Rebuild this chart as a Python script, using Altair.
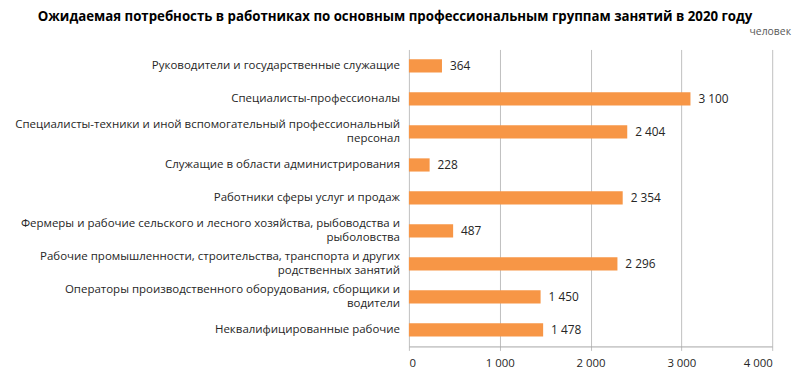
import altair as alt
import pandas as pd

categories = [
    "Руководители и государственные служащие",
    "Специалисты-профессионалы",
    "Специалисты-техники и иной вспомогательный профессиональный|персонал",
    "Служащие в области администрирования",
    "Работники сферы услуг и продаж",
    "Фермеры и рабочие сельского и лесного хозяйства, рыбоводства и|рыболовства",
    "Рабочие промышленности, строительства, транспорта и других|родственных занятий",
    "Операторы производственного оборудования, сборщики и|водители",
    "Неквалифицированные рабочие",
]
values = [364, 3100, 2404, 228, 2354, 487, 2296, 1450, 1478]
x_ticks = [0, 1000, 2000, 3000, 4000]

title_text = "Ожидаемая потребность в работниках по основным профессиональным группам занятий в 2020 году"
unit_text = "человек"

df = pd.DataFrame({"cat": categories, "val": values})

FONT = "Open Sans"
LABEL_SIZE = 11.6
W, H = 367, 300
LEFT = 405

y_scale = alt.Scale(paddingInner=0.6, paddingOuter=0.3)

y_enc = alt.Y(
    "cat:N",
    sort=categories,
    scale=y_scale,
    axis=alt.Axis(
        title=None,
        labels=False,
        tickBand="extent",
        tickSize=3,
        tickColor="#A6A6A6",
        domainColor="#A6A6A6",
        grid=False,
    ),
)

bars = alt.Chart(df).mark_bar(color="#F79646").encode(
    x=alt.X(
        "val:Q",
        scale=alt.Scale(domain=[0, 4000], nice=False),
        axis=alt.Axis(
            title=None,
            values=x_ticks,
            labelExpr="replace(format(datum.value, ','), ',', ' ')",
            labelFont=FONT,
            labelFontSize=11.5,
            labelColor="#262626",
            labelPadding=7,
            tickSize=4,
            tickColor="#BFBFBF",
            domainColor="#A6A6A6",
            gridColor="#BFBFBF",
        ),
    ),
    y=y_enc,
)

ybase = alt.Y("cat:N", sort=categories, scale=y_scale, axis=None)

def cat_text(filter_expr, text_expr, dy):
    return alt.Chart(df).transform_filter(filter_expr).transform_calculate(
        line=text_expr
    ).mark_text(
        align="right", baseline="middle", dy=dy, font=FONT, fontSize=LABEL_SIZE,
        color="#262626"
    ).encode(
        x=alt.value(-9),
        y=ybase,
        text="line:N",
    )

single = cat_text("indexof(datum.cat, '|') < 0", "datum.cat", 0)
first = cat_text("indexof(datum.cat, '|') >= 0", "split(datum.cat, '|')[0]", -7)
second = cat_text("indexof(datum.cat, '|') >= 0", "split(datum.cat, '|')[1]", 7)

labels = alt.Chart(df).transform_calculate(
    lbl="replace(format(datum.val, ','), ',', ' ')"
).mark_text(
    align="left", baseline="middle", dx=8, font=FONT, fontSize=12, color="#262626"
).encode(
    x="val:Q",
    y=ybase,
    text="lbl:N",
)

unit = alt.Chart(pd.DataFrame({"t": [unit_text]})).mark_text(
    align="right", baseline="middle", font=FONT, fontSize=10.5, color="#595959"
).encode(
    x=alt.value(386),
    y=alt.value(-18),
    text="t:N",
)

title = alt.Chart(pd.DataFrame({"t": [title_text]})).mark_text(
    align="center", baseline="middle", font=FONT, fontSize=13.4, fontWeight="bold",
    color="#000000"
).encode(
    x=alt.value(-14),
    y=alt.value(-33),
    text="t:N",
)

chart = alt.layer(bars, labels, single, first, second, unit, title).properties(
    width=W,
    height=H,
    padding={"left": LEFT, "top": 40, "right": 20, "bottom": 30},
    autosize=alt.AutoSizeParams(type="none"),
).configure_view(stroke=None)

chart.save("out.html", embed_options={"renderer": "svg", "actions": False})
